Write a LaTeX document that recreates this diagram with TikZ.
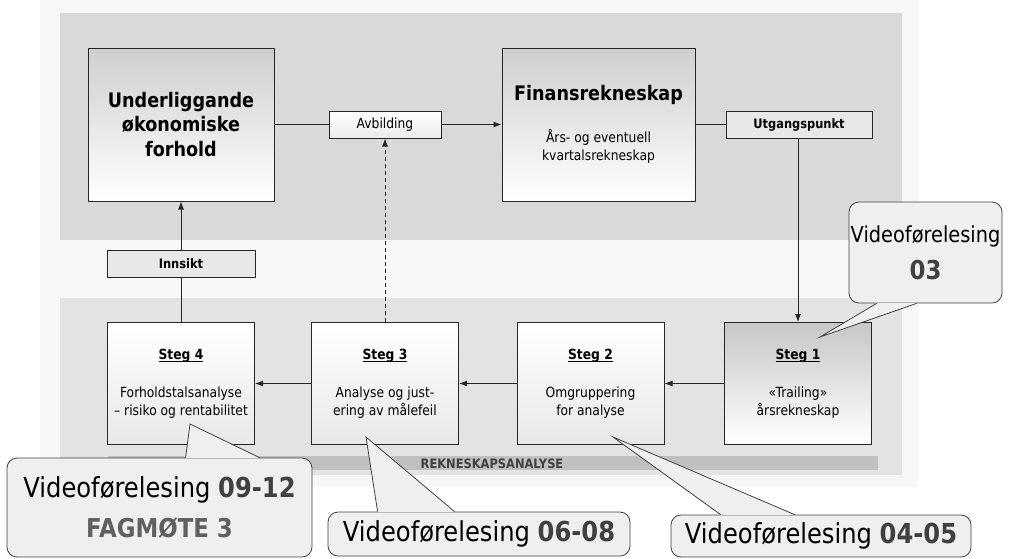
\documentclass[tikz,border=0pt]{standalone}
\usepackage{fontspec}
\setmainfont{DejaVu Sans}[FakeStretch=0.88]
\usetikzlibrary{arrows.meta,calc}

\definecolor{outerbg}{HTML}{F7F7F7}
\definecolor{topbg}{HTML}{D9D9D9}
\definecolor{botbg}{HTML}{E3E3E3}
\definecolor{barbg}{HTML}{C0C0C0}
\definecolor{calloutbg}{HTML}{EFEFEF}
\definecolor{numgray}{HTML}{404040}
\definecolor{meetgray}{HTML}{606060}

\tikzset{
	bigbox/.style={draw=black!85, line width=1pt, top color=topbg!95!black, bottom color=white,
		minimum width=186pt, minimum height=153pt, inner sep=0pt, align=center},
	stegbox/.style={draw=black!85, line width=1pt, top color=white, bottom color=black!9,
		minimum width=147pt, minimum height=122pt, inner sep=0pt, align=center,
		font=\fontsize{14}{18}\selectfont},
	tagbox/.style={draw=black!85, line width=1pt, fill=black!9, inner sep=0pt,
		minimum height=27pt, font=\fontsize{13}{15}\selectfont\bfseries},
	conn/.style={line width=0.8pt, draw=black!85},
	bubble/.style={draw=numgray, line width=0.8pt, fill=calloutbg, rounded corners=10pt,
		inner sep=0pt, align=center},
	bubbletail/.style={draw=numgray, line width=0.8pt, fill=calloutbg}
}

\newcommand{\nr}[1]{\textbf{\textcolor{numgray}{#1}}}
\newcommand{\stegtitle}[1]{\setbox0\hbox{\textbf{#1}}\leavevmode\rlap{\rule[-3pt]{\wd0}{1.3pt}}\box0}

\begin{document}
\begin{tikzpicture}[x=1pt,y=-1pt,>={Latex[length=8pt,width=6pt]}]
	\useasboundingbox (0,0) rectangle (1011,558);

	% bakgrunn
	\fill[outerbg] (40,0) rectangle (918,487);
	\fill[topbg] (60,13) rectangle (902,240);
	\fill[botbg] (60,298) rectangle (902,475);
	\fill[barbg] (108,456) rectangle (878,470);
	\node (bar) at (492,463.5) {\fontsize{13}{14}\selectfont\bfseries\textcolor{numgray}{REKNESKAPSANALYSE}};

	% oeverste rad
	\node[bigbox, font=\fontsize{20}{24.5}\selectfont\bfseries] (under) at (181,124.5)
		{Underliggande\\økonomiske\\forhold};
	\node[bigbox, minimum width=193pt, font=\fontsize{14}{18}\selectfont] (fin) at (598.5,124.5)
		{{\fontsize{20}{24}\selectfont\bfseries Finansrekneskap}\\[24pt]Års- og eventuell\\kvartalsrekneskap};
	\node[tagbox, minimum width=112pt, top color=white, bottom color=black!8, font=\fontsize{14}{16}\selectfont] (avb) at (385,124.5) {Avbilding};
	\node[tagbox, minimum width=146pt] (utg) at (799,124.5) {Utgangspunkt};
	\node[tagbox, minimum width=148pt] (inns) at (181,264) {Innsikt};

	% stega
	\node[stegbox] (s4) at (181,383.5) {\stegtitle{Steg 4}\\[20pt]Forholdstalsanalyse\\– risiko og rentabilitet};
	\node[stegbox] (s3) at (385,383.5) {\stegtitle{Steg 3}\\[20pt]Analyse og just-\\ering av målefeil};
	\node[stegbox] (s2) at (590.5,383.5) {\stegtitle{Steg 2}\\[20pt]Omgruppering\\for analyse};
	\node[stegbox, top color=black!22, bottom color=white] (s1) at (798,383.5) {\stegtitle{Steg 1}\\[20pt]«Trailing»\\årsrekneskap};

	% pilar
	\draw[conn] (under.east) -- (avb.west);
	\draw[conn,->] (avb.east) -- (fin.west);
	\draw[conn] (fin.east) -- (utg.west);
	\draw[conn,->] (utg.south -| s1.north) -- (s1.north);
	\draw[conn,->] (s1.west) -- (s2.east);
	\draw[conn,->] (s2.west) -- (s3.east);
	\draw[conn,->] (s3.west) -- (s4.east);
	\draw[conn] (s4.north) -- (inns.south);
	\draw[conn,->] (inns.north) -- (under.south);
	\draw[conn,->,dash pattern=on 4pt off 3pt] (s3.north) -- (avb.south);

	% snakkebobler
	\node[bubble, minimum width=153pt, minimum height=101pt, font=\fontsize{22}{37}\selectfont] (c03) at (925.5,252.5)
		{Videoførelesing\\{\fontsize{26}{30}\selectfont\nr{03}}};
	\node[bubble, minimum width=305pt, minimum height=99pt, font=\fontsize{27.5}{40}\selectfont] (c0912) at (159.5,507.5)
		{Videoførelesing \nr{09-12}\\{\fontsize{26}{30}\selectfont\bfseries\textcolor{meetgray}{FAGMØTE 3}}};
	\node[bubble, minimum width=302pt, minimum height=44pt, font=\fontsize{27.5}{32}\selectfont] (c0608) at (479,534)
		{Videoførelesing \nr{06-08}};
	\node[bubble, minimum width=300pt, minimum height=42pt, font=\fontsize{27.5}{32}\selectfont] (c0405) at (821,536)
		{Videoførelesing \nr{04-05}};

	\coordinate (t03) at (820,337);
	\coordinate (t0912) at (190,424);
	\coordinate (t0608) at (366,437);
	\coordinate (t0405) at (613,437);

	\fill[calloutbg] ($(c03.south west)+(28,-0.6)$) -- (t03) -- ($(c03.south west)+(68,-0.6)$) -- cycle;
	\draw[bubbletail, fill=none] ($(c03.south west)+(28,0)$) -- (t03) -- ($(c03.south west)+(68,0)$);
	\fill[calloutbg] ($(c0912.north west)+(179,0.6)$) -- (t0912) -- ($(c0912.north west)+(253,0.6)$) -- cycle;
	\draw[bubbletail, fill=none] ($(c0912.north west)+(179,0)$) -- (t0912) -- ($(c0912.north west)+(253,0)$);
	\fill[calloutbg] ($(c0608.north west)+(50,0.6)$) -- (t0608) -- ($(c0608.north west)+(127,0.6)$) -- cycle;
	\draw[bubbletail, fill=none] ($(c0608.north west)+(50,0)$) -- (t0608) -- ($(c0608.north west)+(127,0)$);
	\fill[calloutbg] ($(c0405.north west)+(50,0.6)$) -- (t0405) -- ($(c0405.north west)+(124,0.6)$) -- cycle;
	\draw[bubbletail, fill=none] ($(c0405.north west)+(50,0)$) -- (t0405) -- ($(c0405.north west)+(124,0)$);
\end{tikzpicture}
\end{document}
